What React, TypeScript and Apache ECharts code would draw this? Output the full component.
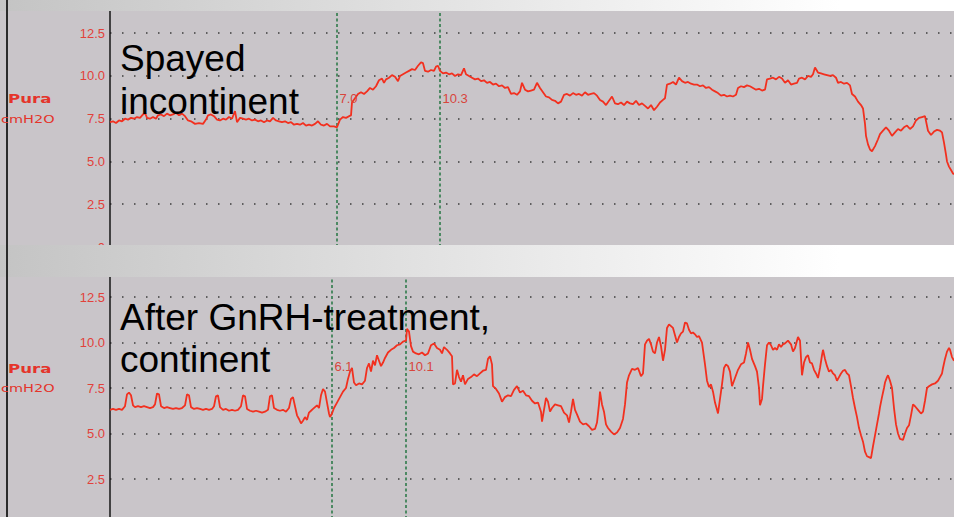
import React, { useEffect, useRef } from "react";
import * as echarts from "echarts";

// Urethral pressure trace (Pura, cmH2O) over time, before and after treatment.
const topTime = [
  0, 3, 6, 9, 12, 15, 18, 21, 24, 27, 30, 33, 35, 37, 40, 43, 46, 48, 51, 54, 57, 60, 63, 66, 69, 72, 75, 78, 81, 85,
  89, 93, 96, 98, 101, 104, 107, 110, 113, 116, 119, 122, 125, 127, 130, 133, 136, 139, 142, 145, 148, 151, 154, 157,
  160, 163, 166, 169, 172, 175, 178, 181, 184, 187, 190, 193, 196, 199, 202, 205, 208, 211, 214, 217, 220, 224, 227,
  230, 233, 236, 239, 241, 242, 245, 248, 251, 254, 257, 260, 263, 266, 269, 272, 274, 276, 279, 282, 285, 288, 290,
  293, 296, 299, 302, 305, 308, 311, 313, 315, 318, 321, 324, 326, 328, 330, 333, 336, 339, 342, 345, 348, 351, 354,
  356, 359, 362, 365, 368, 371, 374, 377, 380, 383, 386, 389, 392, 395, 398, 401, 404, 407, 410, 412, 415, 418, 421,
  424, 427, 430, 433, 436, 439, 442, 445, 448, 451, 454, 457, 460, 463, 466, 469, 472, 475, 478, 481, 484, 487, 490,
  493, 496, 499, 502, 505, 508, 511, 514, 517, 520, 523, 526, 529, 532, 535, 538, 541, 544, 547, 550, 553, 555, 557,
  560, 563, 566, 569, 572, 575, 578, 581, 584, 587, 590, 593, 596, 599, 602, 605, 608, 611, 614, 617, 620, 623, 626,
  628, 631, 634, 637, 640, 643, 646, 649, 652, 655, 657, 660, 663, 666, 669, 672, 675, 678, 681, 684, 687, 689, 692,
  695, 698, 701, 703, 705, 708, 711, 714, 717, 720, 723, 726, 728, 731, 734, 737, 740, 742, 745, 748, 751, 753, 755,
  756, 758, 760, 762, 765, 768, 770, 773, 776, 779, 782, 785, 788, 791, 794, 797, 800, 803, 806, 809, 812, 815, 818,
  821, 824, 827, 830, 832, 834, 836, 837, 839, 841, 843, 844,
];
const topPura = [
  7.3, 7.35, 7.25, 7.4, 7.35, 7.5, 7.45, 7.55, 7.5, 7.6, 7.55, 7.75, 7.85, 7.55, 7.5, 7.6, 7.5, 7.7, 7.75, 7.65, 7.8,
  7.7, 7.75, 7.85, 7.7, 7.8, 7.65, 7.4, 7.35, 7.2, 7.25, 7.2, 7.45, 7.7, 7.75, 7.65, 7.45, 7.4, 7.5, 7.45, 7.6, 7.5,
  7.95, 7.3, 7.55, 7.5, 7.45, 7.5, 7.4, 7.45, 7.35, 7.4, 7.3, 7.4, 7.35, 7.55, 7.4, 7.35, 7.3, 7.35, 7.25, 7.3, 7.15,
  7.2, 7.15, 7.25, 7.1, 7.15, 7.1, 7.2, 7.35, 7.15, 7.1, 7.2, 7.05, 7.05, 7.0, 7.45, 7.6, 7.55, 7.65, 7.7, 8.45, 8.7,
  8.95, 9.05, 8.95, 9.1, 9.3, 9.2, 9.4, 9.75, 9.85, 9.6, 9.8, 9.9, 10.05, 9.95, 9.7, 10.0, 10.1, 10.2, 10.3, 10.4,
  10.35, 10.6, 10.8, 10.75, 10.3, 10.25, 10.35, 10.3, 10.55, 10.6, 10.3, 10.15, 10.2, 10.1, 10.15, 10.0, 10.1, 10.05,
  10.45, 10.1, 10.0, 9.9, 9.8, 9.85, 9.7, 9.75, 9.6, 9.65, 9.5, 9.55, 9.4, 9.45, 9.3, 9.35, 8.95, 9.0, 8.9, 9.1, 9.6,
  9.2, 9.1, 9.15, 9.2, 9.6, 9.3, 9.05, 8.8, 8.75, 8.6, 8.55, 8.4, 8.5, 8.9, 8.95, 8.85, 9.0, 8.9, 8.95, 8.85, 9.05, 8.9,
  8.95, 9.0, 8.85, 8.6, 8.5, 8.3, 8.55, 8.8, 8.4, 8.35, 8.45, 8.3, 8.5, 8.4, 8.35, 8.55, 8.3, 8.4, 8.25, 8.1, 8.3, 8.0,
  8.2, 8.45, 8.6, 8.7, 9.5, 9.55, 9.65, 9.5, 9.9, 9.7, 9.6, 9.65, 9.55, 9.5, 9.5, 9.4, 9.45, 9.3, 9.35, 9.2, 9.1, 9.0,
  8.85, 8.9, 8.8, 8.85, 8.8, 8.9, 9.3, 9.4, 9.35, 9.45, 9.4, 9.3, 9.2, 9.25, 9.15, 9.2, 9.8, 9.85, 9.9, 9.8, 9.95,
  9.85, 9.6, 9.75, 9.5, 9.55, 9.6, 9.85, 9.9, 9.8, 10.0, 9.95, 10.1, 10.5, 10.2, 10.15, 10.1, 10.05, 10.0, 10.05, 9.9,
  9.6, 9.65, 9.55, 9.6, 9.45, 8.95, 8.8, 8.5, 8.3, 8.1, 7.2, 6.5, 6.0, 5.7, 5.6, 5.9, 6.3, 6.6, 6.8, 7.0, 6.8, 6.5,
  6.7, 6.9, 6.8, 7.0, 7.1, 6.9, 7.05, 7.4, 7.55, 7.6, 7.65, 6.8, 6.55, 6.75, 6.85, 6.8, 6.7, 6.1, 5.4, 5.0, 4.7, 4.5,
  4.3, 4.25,
];
const bottomTime = [
  0, 3, 6, 9, 12, 15, 17, 19, 21, 23, 25, 28, 31, 34, 37, 40, 43, 45, 47, 49, 51, 54, 57, 60, 63, 66, 69, 72, 75, 77,
  79, 81, 84, 87, 90, 93, 96, 99, 102, 104, 106, 108, 110, 113, 116, 119, 122, 125, 128, 131, 133, 135, 137, 140, 143,
  146, 149, 152, 155, 158, 160, 162, 164, 167, 170, 173, 176, 179, 181, 183, 185, 187, 189, 191, 193, 195, 197, 199,
  201, 203, 205, 207, 209, 211, 213, 215, 217, 219, 220, 222, 224, 227, 230, 233, 236, 238, 240, 242, 244, 246, 249,
  252, 255, 257, 259, 261, 263, 265, 267, 269, 271, 273, 275, 278, 281, 284, 287, 290, 293, 296, 297, 299, 301, 303,
  306, 309, 312, 315, 318, 321, 324, 327, 330, 332, 334, 337, 340, 342, 343, 345, 347, 349, 351, 353, 355, 358, 361,
  364, 367, 370, 373, 376, 378, 380, 382, 383, 386, 389, 392, 395, 398, 401, 404, 407, 410, 413, 416, 419, 422, 425,
  428, 431, 432, 434, 436, 438, 440, 442, 445, 448, 451, 454, 457, 459, 461, 463, 465, 467, 470, 473, 476, 479, 482,
  485, 487, 489, 490, 492, 494, 496, 498, 501, 504, 507, 510, 513, 515, 517, 519, 522, 525, 528, 531, 533, 535, 537,
  539, 541, 543, 545, 547, 549, 551, 553, 555, 557, 559, 561, 563, 565, 567, 569, 571, 573, 575, 577, 579, 581, 583,
  585, 587, 589, 592, 595, 597, 599, 601, 603, 605, 607, 608, 610, 612, 614, 616, 618, 620, 622, 624, 626, 628, 631,
  634, 636, 638, 640, 642, 645, 647, 649, 650, 652, 653, 655, 657, 659, 661, 663, 665, 667, 669, 671, 673, 675, 678,
  681, 683, 685, 688, 690, 692, 694, 696, 698, 700, 702, 704, 706, 708, 710, 712, 713, 715, 717, 719, 721, 723, 725,
  727, 729, 731, 733, 735, 737, 739, 741, 743, 745, 747, 749, 751, 753, 755, 757, 759, 761, 763, 765, 767, 769, 770,
  772, 774, 775, 777, 778, 780, 782, 784, 786, 788, 790, 793, 795, 797, 799, 801, 803, 805, 808, 811, 813, 815, 817,
  819, 822, 825, 828, 830, 832, 833, 835, 837, 839, 840, 842, 844,
];
const bottomPura = [
  6.3, 6.35, 6.3, 6.35, 6.3, 6.5, 7.15, 7.25, 7.1, 6.55, 6.45, 6.5, 6.45, 6.5, 6.45, 6.4, 6.45, 6.6, 7.2, 7.15, 6.5,
  6.4, 6.45, 6.4, 6.35, 6.4, 6.35, 6.4, 6.55, 7.15, 7.1, 6.45, 6.35, 6.4, 6.35, 6.3, 6.35, 6.3, 6.35, 6.5, 7.05, 7.1,
  6.45, 6.3, 6.35, 6.25, 6.3, 6.25, 6.3, 6.5, 7.1, 7.05, 6.35, 6.25, 6.2, 6.25, 6.2, 6.15, 6.2, 6.3, 7.05, 7.1, 6.4,
  6.3, 6.25, 6.3, 6.2, 6.4, 6.9, 7.0, 6.5, 6.0, 5.8, 5.55, 5.7, 5.9, 5.75, 6.15, 6.25, 6.35, 6.45, 6.55, 6.4, 7.1,
  7.45, 7.3, 6.7, 6.1, 5.9, 6.1, 6.4, 6.7, 7.0, 7.3, 7.5, 8.0, 8.4, 8.6, 7.8, 7.65, 7.75, 7.7, 7.9, 8.6, 8.85, 8.4,
  9.0, 8.75, 9.3, 9.0, 8.7, 8.9, 9.15, 9.45, 9.6, 9.7, 9.85, 9.9, 10.05, 10.1, 10.75, 10.6, 9.8, 9.5, 9.4, 9.35, 9.45,
  9.3, 9.4, 9.85, 9.95, 9.7, 9.6, 9.4, 9.75, 9.6, 9.4, 9.25, 7.7, 7.75, 8.5, 8.1, 7.85, 8.2, 7.7, 8.0, 8.1, 8.25,
  8.15, 8.3, 8.45, 8.5, 9.1, 9.25, 8.8, 7.6, 7.45, 7.2, 6.75, 7.0, 7.1, 7.05, 7.4, 7.6, 7.25, 7.35, 7.1, 7.05, 6.8,
  6.65, 6.7, 6.2, 5.65, 6.3, 6.95, 6.75, 6.2, 6.4, 6.6, 6.55, 6.5, 6.15, 6.0, 5.6, 6.2, 6.9, 6.3, 6.05, 5.65, 5.5,
  5.55, 5.4, 5.2, 5.25, 5.6, 6.6, 7.3, 6.6, 6.2, 5.5, 5.3, 5.1, 4.95, 5.05, 5.3, 5.8, 6.6, 7.8, 8.2, 8.55, 8.5, 8.6,
  8.15, 8.3, 9.9, 10.1, 10.2, 9.9, 9.5, 9.4, 10.0, 10.3, 9.8, 9.0, 9.6, 10.8, 11.0, 10.9, 10.8, 10.4, 10.0, 10.3,
  10.5, 10.6, 11.1, 11.05, 10.7, 10.5, 10.55, 10.45, 10.3, 10.35, 10.0, 8.8, 7.9, 7.55, 7.7, 7.3, 6.7, 6.3, 6.1, 6.9,
  7.7, 8.6, 8.8, 8.7, 8.4, 7.6, 7.9, 8.2, 8.5, 8.8, 8.9, 9.4, 10.0, 9.6, 9.1, 8.7, 8.4, 7.5, 6.55, 6.9, 7.6, 8.8,
  9.85, 10.0, 9.85, 9.6, 9.7, 9.6, 9.9, 9.75, 9.9, 9.95, 10.1, 9.9, 9.5, 9.7, 10.3, 10.1, 8.2, 8.9, 9.2, 9.3, 8.9,
  8.85, 8.5, 8.3, 8.05, 8.6, 9.3, 9.6, 9.1, 8.7, 8.4, 8.5, 8.3, 8.2, 7.9, 8.1, 8.3, 8.45, 8.5, 8.3, 8.2, 7.6, 6.95,
  6.4, 5.9, 5.3, 4.9, 4.55, 4.0, 3.75, 3.7, 3.65, 4.3, 4.9, 5.5, 6.1, 6.45, 7.0, 7.5, 7.8, 8.1, 8.2, 7.9, 7.5, 6.4,
  5.5, 5.0, 4.7, 4.65, 5.0, 5.3, 5.45, 6.0, 6.6, 6.5, 6.3, 6.1, 6.2, 6.8, 7.5, 7.6, 7.7, 7.75, 7.9, 8.1, 8.3, 8.6,
  9.1, 9.5, 9.7, 9.6, 9.2, 9.0,
];

// Cursor positions (time) placed on each trace
const topCursors = [227, 330];
const bottomCursors = [222, 296];

const panelTitles = [["Spayed", "incontinent"], ["After GnRH-treatment,", "continent"]];
const channelName = "Pura";
const channelUnit = "cmH2O";

const TIME_MAX = 844;
const VIEW_W = 954;
const VIEW_H = 517;
const PLOT_BG = "#c9c5c9";
const TRACE = "#f2301f";
const AXIS_RED = "#e2413a";
const CURSOR = "#2f7a4a";
const SANS = '"Liberation Sans", Arial, sans-serif';

const valueAt = (times: number[], vals: number[], t: number) => vals[times.indexOf(t)];

function buildOption() {
  const bandFill = () =>
    new echarts.graphic.LinearGradient(0, 0, 1, 0, [
      { offset: 0, color: "#c4c4c4" },
      { offset: 0.88, color: "#ffffff" },
      { offset: 1, color: "#ffffff" },
    ]);

  const yAxisBase = (max: number, gridIndex: number, showZero: boolean) => ({
    type: "value",
    gridIndex,
    min: 0,
    max,
    interval: 2.5,
    axisLine: { show: true, lineStyle: { color: "#151515", width: 1.5 } },
    axisTick: { show: false },
    axisLabel: {
      showMaxLabel: false,
      showMinLabel: showZero,
      margin: 5,
      color: AXIS_RED,
      fontFamily: SANS,
      fontSize: 13,
      formatter: (v: number) => (v === 0 ? "0" : v.toFixed(1)),
    },
    splitLine: {
      show: true,
      showMaxLine: false,
      lineStyle: { color: "#3c3c3c", width: 1.5, type: [1.5, 10.5] },
    },
  });

  const xAxisBase = (gridIndex: number) => ({
    type: "value",
    gridIndex,
    min: 0,
    max: TIME_MAX,
    axisLine: { show: false },
    axisTick: { show: false },
    axisLabel: { show: false },
    splitLine: { show: false },
  });

  const traceSeries = (times: number[], vals: number[], cursors: number[], idx: number) => ({
    type: "line",
    xAxisIndex: idx,
    yAxisIndex: idx,
    data: times.map((t, i) => [t, vals[i]]),
    showSymbol: false,
    symbol: "none",
    lineStyle: { color: TRACE, width: 1.8 },
    z: 3,
    markLine: {
      silent: true,
      symbol: ["none", "none"],
      label: { show: false },
      lineStyle: { color: CURSOR, width: 1.6, type: [3, 2.5] },
      data: cursors.map((t) => ({ xAxis: t })),
      z: 2,
    },
    markPoint: {
      silent: true,
      symbol: "circle",
      symbolSize: 1,
      itemStyle: { color: "rgba(0,0,0,0)" },
      label: {
        show: true,
        position: "right",
        distance: 2,
        color: "#d8453c",
        fontFamily: SANS,
        fontSize: 13,
        formatter: (p: any) => Number(p.value).toFixed(1),
      },
      data: cursors.map((t) => ({ coord: [t, 8.7], value: valueAt(times, vals, t) })),
    },
  });

  const titleText = (text: string, x: number, y: number) => ({
    type: "text",
    x,
    y,
    z: 20,
    style: { text, fill: "#000", fontFamily: SANS, fontSize: 37, verticalAlign: "middle" },
  });

  const channelText = (yName: number, yUnit: number) => [
    {
      type: "text",
      x: 8,
      y: yName,
      scaleX: 1.33,
      z: 20,
      style: {
        text: channelName,
        fill: "#e4342a",
        fontFamily: '"DejaVu Sans", Verdana, sans-serif',
        fontWeight: "bold",
        fontSize: 12.5,
        verticalAlign: "middle",
      },
    },
    {
      type: "text",
      x: 1,
      y: yUnit,
      scaleX: 1.45,
      z: 20,
      style: {
        text: channelUnit,
        fill: "#e4342a",
        fontFamily: '"DejaVu Sans", Verdana, sans-serif',
        fontSize: 10,
        verticalAlign: "middle",
      },
    },
  ];

  return {
    animation: false,
    backgroundColor: PLOT_BG,
    grid: [
      // the lower panel runs on below the window, down to its 0 level
      { left: 110, right: 0, top: 11, height: 236, outerBoundsMode: "none" },
      { left: 110, right: 0, top: 277, height: 247.5, outerBoundsMode: "none" },
    ],
    xAxis: [xAxisBase(0), xAxisBase(1)],
    yAxis: [yAxisBase(13.8, 0, true), yAxisBase(13.6, 1, false)],
    series: [
      traceSeries(topTime, topPura, topCursors, 0),
      traceSeries(bottomTime, bottomPura, bottomCursors, 1),
    ],
    graphic: [
      { type: "rect", z: 10, silent: true, shape: { x: 0, y: 0, width: VIEW_W, height: 11 }, style: { fill: bandFill() } },
      { type: "rect", z: 10, silent: true, shape: { x: 0, y: 245, width: VIEW_W, height: 32 }, style: { fill: bandFill() } },
      {
        type: "line",
        z: 12,
        silent: true,
        shape: { x1: 7, y1: 0, x2: 7, y2: VIEW_H },
        style: { stroke: "#2a2a2a", lineWidth: 2 },
      },
      titleText(panelTitles[0][0], 120, 58.7),
      titleText(panelTitles[0][1], 120, 101.7),
      titleText(panelTitles[1][0], 120, 317.7),
      titleText(panelTitles[1][1], 120, 359.7),
      ...channelText(98.5, 119),
      ...channelText(368, 388),
    ],
  };
}

export default function App() {
  const ref = useRef<HTMLDivElement>(null);
  useEffect(() => {
    if (!ref.current) return;
    const chart = echarts.init(ref.current, undefined, { renderer: "svg" });
    chart.setOption(buildOption() as any);
    return () => chart.dispose();
  }, []);
  return (
    <div
      ref={ref}
      style={{ position: "absolute", left: 0, top: 0, width: VIEW_W, height: VIEW_H, background: PLOT_BG }}
    />
  );
}
